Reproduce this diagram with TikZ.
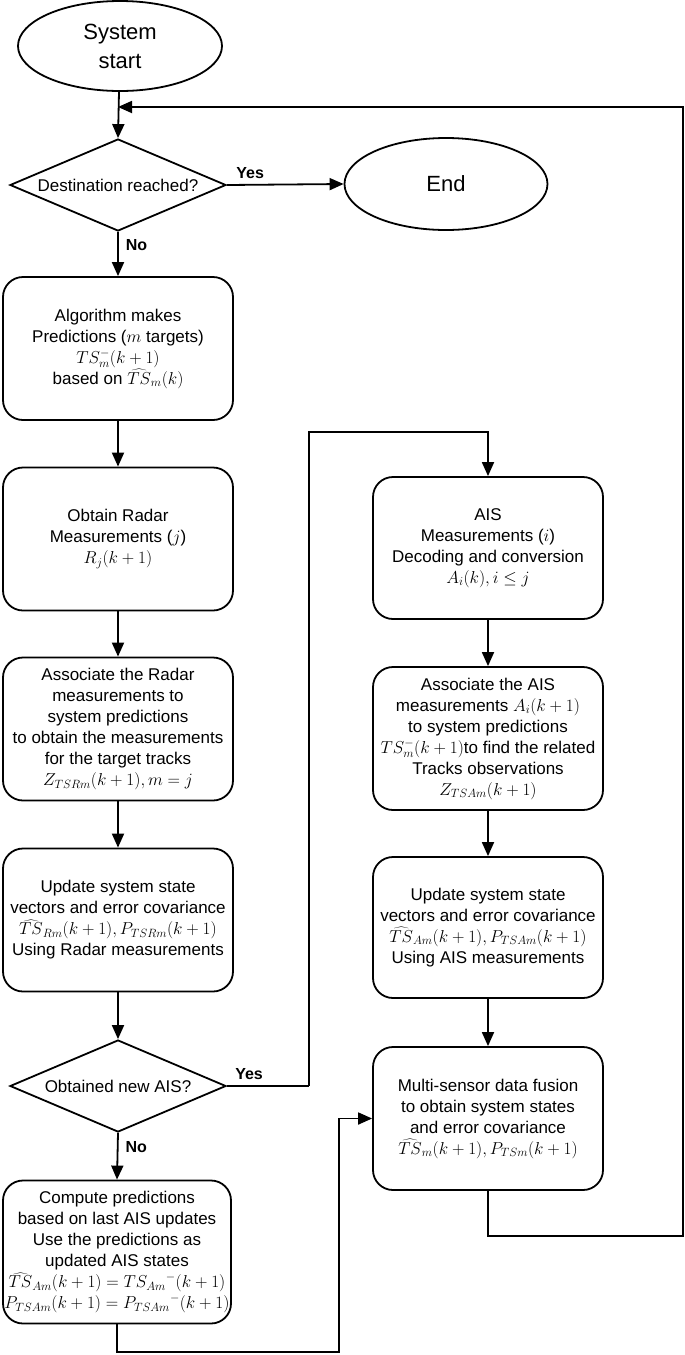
\documentclass[tikz,border=0pt]{standalone}
\usepackage{fontspec}
\setmainfont{Liberation Sans}
\usetikzlibrary{shapes.geometric,arrows.meta}
\newcommand\mth[1]{{\fontsize{18.5}{21}\selectfont$#1$}}
\begin{document}
\begin{tikzpicture}[x=1pt,y=-1pt,
 every node/.style={font=\fontsize{17}{21}\selectfont},
 box/.style={draw,line width=1.8pt,rounded corners=20pt,minimum width=230pt,minimum height=143pt,align=center,inner sep=0pt},
 term/.style={draw,ellipse,line width=1.8pt,inner sep=0pt,font=\fontsize{22}{29}\selectfont,align=center},
 dia/.style={draw,diamond,line width=1.8pt,inner sep=0pt,minimum width=216pt,minimum height=92pt},
 conn/.style={line width=1.8pt},
 arr/.style={conn,-{Triangle[length=14pt,width=12pt]}},
 lbl/.style={font=\bfseries\fontsize{16}{18}\selectfont,inner sep=0pt}
]
\useasboundingbox (0,0) rectangle (685,1355);

% terminals and decisions
\node[term,minimum width=204pt,minimum height=90pt] (start) at (120,46) {System\\start};
\node[dia] (d1) at (118,185) {};
\node at (d1) {Destination reached?};
\node[term,minimum width=203pt,minimum height=92pt] (end) at (446,184) {End};

% left column
\node[box] (b1) at (118,348.5) {Algorithm makes\\Predictions (\mth{m} targets)\\\mth{TS_m^-(k+1)}\\based on \mth{\widehat{TS}_m(k)}};
\node[box] (b2) at (118,539) {Obtain Radar\\Measurements (\mth{j})\\\mth{R_j(k+1)}};
\node[box] (b3) at (118,729) {Associate the Radar\\measurements to\\system predictions\\to obtain the measurements\\for the target tracks\\\mth{Z_{TSRm}(k+1), m=j}};
\node[box] (b4) at (118,920) {Update system state\\vectors and error covariance\\\mth{\widehat{TS}_{Rm}(k+1), P_{TSRm}(k+1)}\\Using Radar measurements};
\node[dia] (d2) at (118,1086) {};
\node at (d2) {Obtained new AIS?};
\node[box,minimum width=228pt] (b5) at (117,1252) {Compute predictions\\based on last AIS updates\\Use the predictions as\\updated AIS states\\\mth{\widehat{TS}_{Am}(k+1)={TS_{Am}}^-(k+1)}\\\mth{P_{TSAm}(k+1)={P_{TSAm}}^-(k+1)}};

% right column
\node[box,minimum height=142pt] (ais) at (488,548) {AIS\\Measurements (\mth{i})\\Decoding and conversion\\\mth{A_i(k), i\le j}};
\node[box] (aais) at (488,738.5) {Associate the AIS\\measurements \mth{A_i(k+1)}\\to system predictions\\\mth{TS_m^-(k+1)}to find the related\\Tracks observations\\\mth{Z_{TSAm}(k+1)}};
\node[box,minimum height=141pt] (uais) at (488,927.5) {Update system state\\vectors and error covariance\\\mth{\widehat{TS}_{Am}(k+1), P_{TSAm}(k+1)}\\Using AIS measurements};
\node[box] (fuse) at (488,1118.5) {Multi-sensor data fusion\\to obtain system states\\and error covariance\\\mth{\widehat{TS}_m(k+1), P_{TSm}(k+1)}};

% helper coordinates
\coordinate (fbJ) at (118,107);
\coordinate (fbT) at (683,107);
\coordinate (fbR) at (683,1236);
\coordinate (yT) at (309,432);
\coordinate (yB) at (309,1086);
\coordinate (bl) at (339,1352);

% connectors
\draw[arr] (start) -- (d1.north);
\draw[arr] (d1.east) -- (end.west) node[lbl,pos=0.2,above=5pt] {Yes};
\draw[arr] (d1.south) -- (b1.north) node[lbl,pos=0.3,right=7pt] {No};
\draw[arr] (b1) -- (b2);
\draw[arr] (b2) -- (b3);
\draw[arr] (b3) -- (b4);
\draw[arr] (b4) -- (d2.north);
\draw[conn] (d2.east) -- (yB) node[lbl,pos=0.27,above=5pt] {Yes};
\draw[arr] (yB) -- (yT) -| (ais.north);
\draw[arr] (d2.south) -- (b5.north) node[lbl,pos=0.3,right=7pt] {No};
\draw[arr] (b5.south) |- (bl) |- (fuse.west);
\draw[arr] (ais) -- (aais);
\draw[arr] (aais) -- (uais);
\draw[arr] (uais) -- (fuse);
\draw[arr] (fuse.south) |- (fbR) -- (fbT) -- (fbJ);
\end{tikzpicture}
\end{document}
